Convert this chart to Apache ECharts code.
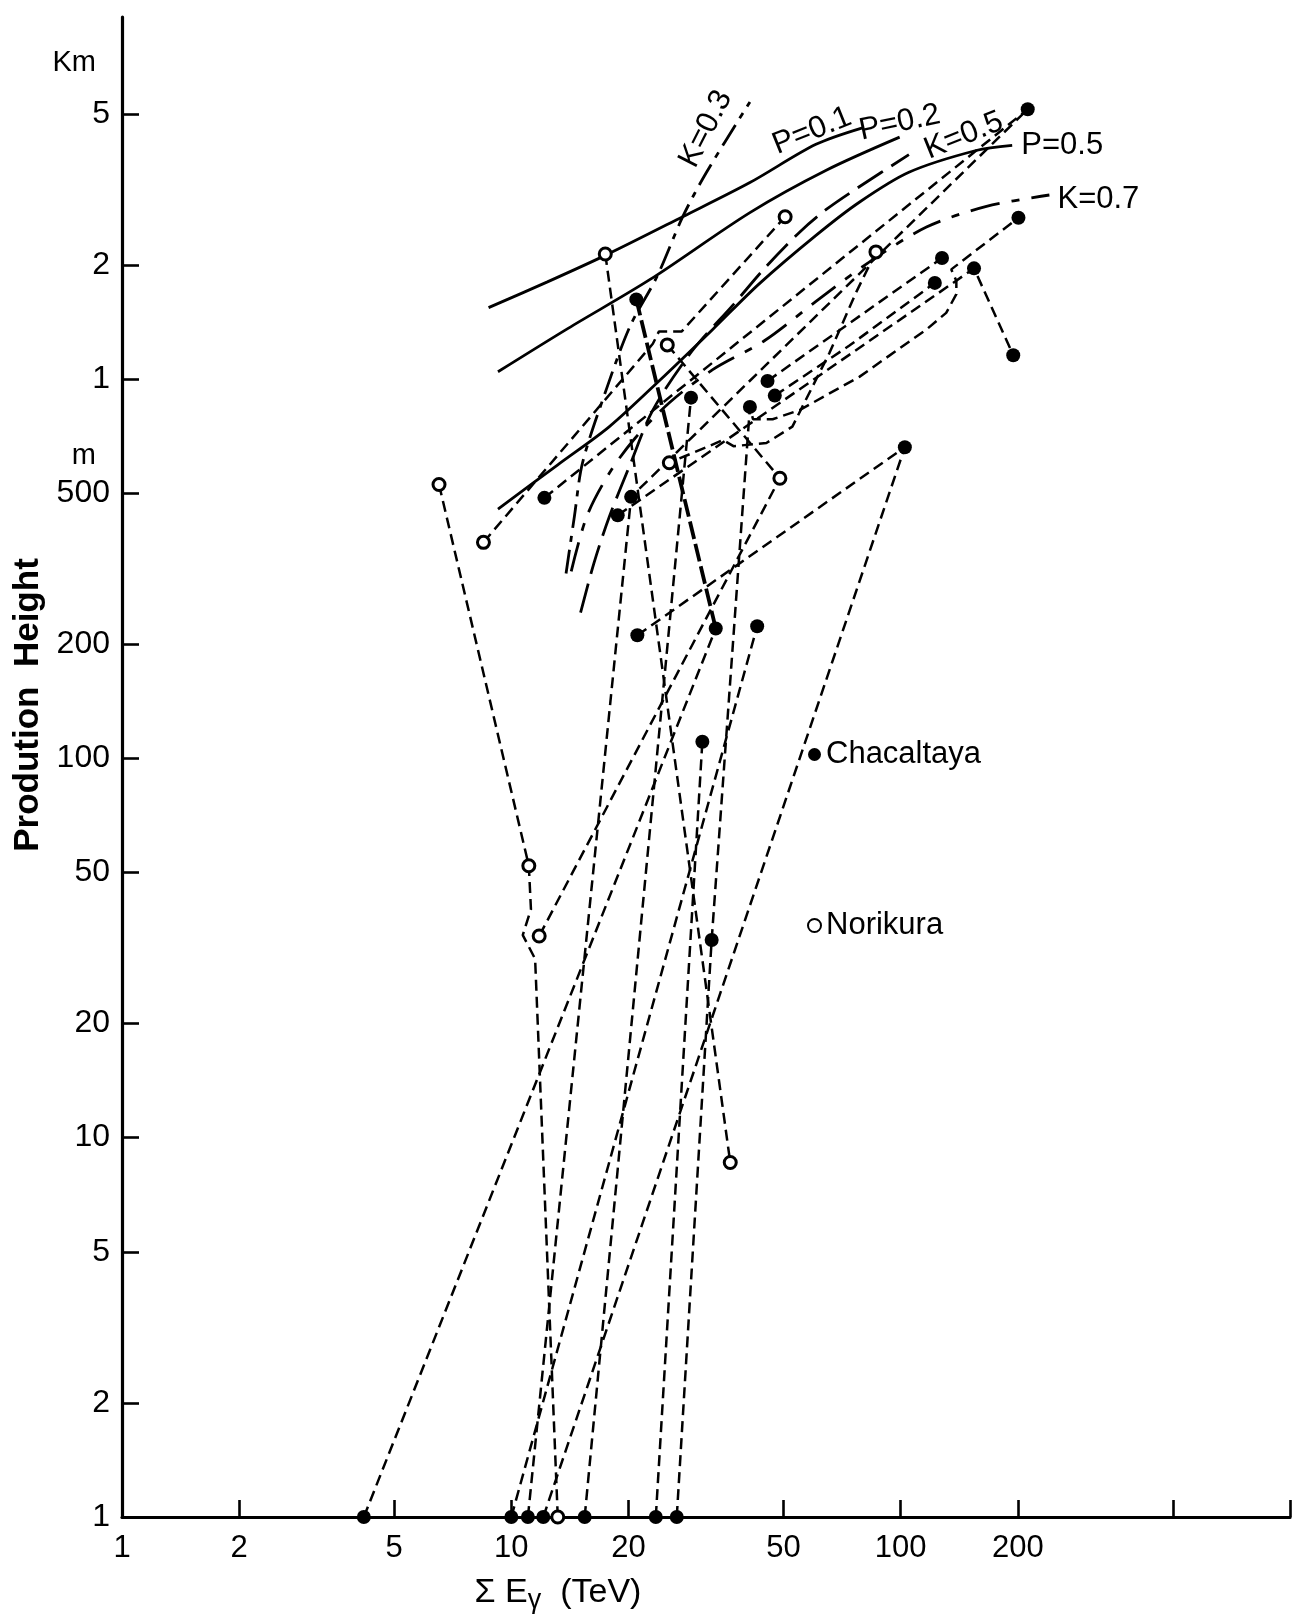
<!DOCTYPE html>
<html>
<head>
<meta charset="utf-8">
<script src="https://cdn.jsdelivr.net/npm/echarts@6.0.0/dist/echarts.min.js"></script>
<style>
  html, body { margin: 0; padding: 0; background: #fff; }
  #main { width: 1293px; height: 1621px; }
</style>
</head>
<body>
<div id="main"></div>
<script>
// axis ticks / labels
var xTicks = [2, 5, 10, 20, 50, 100, 200, 500, 1000];
var xLabelValues = [1, 2, 5, 10, 20, 50, 100, 200];
var yTicks = [2, 5, 10, 20, 50, 100, 200, 500, 1000, 2000, 5000];
var yLabelValues = [1, 2, 5, 10, 20, 50, 100, 200, 500, 1000, 2000, 5000];

// theoretical curves  [sum E (TeV), height (m)]
var curveP01 = [[8.74, 1542], [12.38, 1803], [17.54, 2124], [27.56, 2678], [41.0, 3294], [60.6, 4155], [79.8, 4594]];
var curveP02 = [[9.24, 1045], [13.99, 1360], [22.67, 1827], [41.0, 2746], [64.4, 3551], [99.4, 4341]];
var curveP05 = [[9.24, 454], [13.16, 594], [17.86, 749], [24.1, 994], [32.9, 1351], [43.3, 1781], [60.6, 2391], [78.3, 2924], [105.0, 3507], [156.2, 4002], [193.4, 4129]];
var curveK03 = [[13.82, 307], [14.52, 434], [15.24, 602], [17.54, 939], [20.18, 1377], [23.66, 1861], [27.56, 2678], [31.72, 3507], [41.0, 5374]];
var curveK05 = [[15.06, 242], [16.3, 327], [17.86, 434], [20.18, 594], [23.09, 828], [29.12, 1185], [37.18, 1571], [45.2, 1982], [55.0, 2438], [64.4, 2798], [78.3, 3212], [105.0, 3903]];
var curveK07 = [[14.25, 311], [15.62, 434], [17.86, 565], [20.81, 699], [25.46, 866], [32.9, 1058], [44.66, 1261], [60.6, 1601], [82.3, 2020], [116.5, 2515], [166.1, 2851], [241, 3055]];

// Chacaltaya events (dashed links)
var chacaltayaEvents = [
  [[4.18, 1], [33.5, 220]],
  [[10.0, 1], [42.8, 223]],
  [[11.03, 1], [20.31, 489], [212.0, 5142]],
  [[12.08, 1], [102.5, 661]],
  [[21.07, 211], [102.5, 661]],
  [[15.43, 1], [28.94, 893]],
  [[23.5, 1], [30.95, 110.6]],
  [[26.6, 1], [32.7, 33.2], [41.0, 844], [41.76, 783], [46.9, 783], [55.0, 828], [78.3, 1013], [116.5, 1351], [130.9, 1494], [139.0, 1673], [139.0, 1815], [134.9, 1945], [200.7, 2661]],
  [[18.76, 437], [154.3, 1957], [194.6, 1155]],
  [[45.5, 988], [127.7, 2084]],
  [[47.5, 904], [73.7, 1223], [122.4, 1792]],
  [[12.16, 486], [212.0, 5142]]
];
var chacaltayaHeavy = [[33.5, 220], [20.94, 1621]];

// Norikura events
var norikuraEvents = [
  [[6.52, 527], [11.09, 52.1], [11.23, 40.0], [10.7, 34.2], [11.51, 29.6], [13.16, 1]],
  [[17.43, 2136], [36.5, 8.6]],
  [[25.15, 1230], [48.95, 547.5], [11.79, 34.0]],
  [[86.4, 2163], [76.9, 1694], [65.6, 1170], [52.7, 749], [45.2, 678], [37.2, 665], [34.98, 690.6], [31.72, 661], [25.46, 601.6]],
  [[8.48, 371], [23.09, 1238], [23.95, 1335], [27.4, 1335], [50.5, 2678]]
];

// measured points
var chacaltayaPoints = [[212.0, 5142], [200.7, 2661], [127.7, 2084], [154.3, 1957], [122.4, 1792], [194.6, 1155],
  [20.94, 1621], [45.5, 988], [47.5, 904], [28.94, 893], [41.0, 844], [20.31, 489], [18.76, 437], [12.16, 486],
  [102.5, 661], [21.07, 211], [33.5, 220], [42.8, 223], [30.95, 110.6], [32.7, 33.2],
  [4.18, 1], [10.0, 1], [11.03, 1], [12.08, 1], [15.43, 1], [23.5, 1], [26.6, 1]];
var norikuraPoints = [[17.43, 2136], [50.5, 2678], [25.15, 1230], [86.4, 2163], [48.95, 547.5], [6.52, 527],
  [8.48, 371], [11.09, 52.1], [11.79, 34.0], [36.5, 8.6], [25.46, 601.6], [13.16, 1]];

var FONT = "Liberation Sans";

var curves = [
  { name: "P=0.1", data: curveP01, dash: "solid", label: { rotate: 22, offset: [-48, -16] } },
  { name: "P=0.2", data: curveP02, dash: "solid", label: { rotate: 12, offset: [3, -14] } },
  { name: "P=0.5", data: curveP05, dash: "solid", label: { rotate: 0, offset: [50, 0] } },
  { name: "K=0.3", data: curveK03, dash: [24, 8, 6, 8], label: { rotate: 63, offset: [-44, -27] } },
  { name: "K=0.5", data: curveK05, dash: [30, 10], label: { rotate: 22, offset: [58, 3] } },
  { name: "K=0.7", data: curveK07, dash: [30, 12, 8, 12], label: { rotate: 0, offset: [49, 4] } }
];

var series = [];

curves.forEach(function (c) {
  series.push({
    type: "line",
    name: c.name,
    smooth: 0.3,
    symbol: "circle",
    symbolSize: 0,
    showSymbol: true,
    silent: true,
    z: 2,
    lineStyle: { color: "#000", width: 2.8, type: c.dash },
    itemStyle: { color: "#000", opacity: 1 },
    label: { show: false },
    data: c.data.map(function (p, i) {
      if (i !== c.data.length - 1) return p;
      return {
        value: p,
        label: {
          show: true,
          position: "inside",
          formatter: c.name,
          rotate: c.label.rotate,
          offset: c.label.offset,
          fontFamily: FONT,
          fontSize: 31,
          color: "#000"
        }
      };
    })
  });
});

chacaltayaEvents.concat(norikuraEvents).forEach(function (ev) {
  series.push({
    type: "line",
    data: ev,
    showSymbol: false,
    silent: true,
    z: 3,
    lineStyle: { color: "#000", width: 2.5, type: [11, 6] }
  });
});

series.push({
  type: "line",
  data: chacaltayaHeavy,
  showSymbol: false,
  silent: true,
  z: 3,
  lineStyle: { color: "#000", width: 3.8, type: [18, 5] }
});

series.push({
  type: "scatter",
  name: "Chacaltaya",
  data: chacaltayaPoints,
  symbol: "circle",
  symbolSize: 14,
  z: 5,
  itemStyle: { color: "#000", opacity: 1 }
});
series.push({
  type: "scatter",
  name: "Norikura",
  data: norikuraPoints,
  symbol: "circle",
  symbolSize: 12,
  z: 5,
  itemStyle: { color: "#fff", borderColor: "#000", borderWidth: 3, opacity: 1 }
});

// unit marks on the height axis
series.push({
  type: "scatter",
  data: [{ value: [1, 6810], name: "Km" }, { value: [1, 627], name: "m" }],
  symbolSize: 0,
  silent: true,
  clip: false,
  itemStyle: { opacity: 1, color: "#000" },
  label: {
    show: true,
    position: "left",
    distance: 26,
    formatter: "{b}",
    fontFamily: FONT,
    fontSize: 29,
    color: "#000"
  }
});

var option = {
  backgroundColor: "#fff",
  animation: false,
  grid: { left: 122, right: 3, top: 17, bottom: 104, outerBoundsMode: "none" },
  legend: {
    data: ["Chacaltaya", "Norikura"],
    orient: "vertical",
    left: 802,
    top: 734,
    itemGap: 140,
    itemWidth: 13,
    itemHeight: 13,
    icon: "circle",
    selectedMode: false,
    textStyle: { fontFamily: FONT, fontSize: 31, color: "#000" }
  },
  xAxis: {
    type: "log",
    logBase: 10,
    min: 1,
    max: 1000,
    name: "Σ E{sub|γ}  (TeV)",
    nameLocation: "middle",
    nameGap: 54,
    nameTextStyle: {
      fontFamily: FONT,
      fontSize: 34,
      color: "#000",
      padding: [0, 296, 0, 0],
      rich: { sub: { fontFamily: FONT, fontSize: 27, color: "#000", padding: [16, 0, 0, 0] } }
    },
    axisLine: { lineStyle: { color: "#000", width: 3.2 } },
    axisTick: { inside: true, length: 17, customValues: xTicks, lineStyle: { color: "#000", width: 2.6 } },
    axisLabel: {
      customValues: xLabelValues,
      margin: 16,
      fontFamily: FONT,
      fontSize: 31,
      color: "#000",
      formatter: function (v) { return String(Math.round(v)); }
    },
    splitLine: { show: false },
    minorTick: { show: false }
  },
  yAxis: {
    type: "log",
    logBase: 10,
    min: 1,
    max: 9000,
    name: "Prodution  Height",
    nameLocation: "middle",
    nameGap: 76,
    nameTextStyle: {
      fontFamily: FONT,
      fontSize: 35,
      fontWeight: "bold",
      color: "#000",
      padding: [0, 0, 0, 124]
    },
    axisLine: { lineStyle: { color: "#000", width: 3.2 } },
    axisTick: { inside: true, length: 17, customValues: yTicks, lineStyle: { color: "#000", width: 2.6 } },
    axisLabel: {
      customValues: yLabelValues,
      margin: 12,
      fontFamily: FONT,
      fontSize: 32,
      color: "#000",
      formatter: function (v) {
        var r = Math.round(v);
        return r >= 1000 ? String(Math.round(r / 1000)) : String(r);
      }
    },
    splitLine: { show: false },
    minorTick: { show: false }
  },
  series: series
};

var chart = echarts.init(document.getElementById("main"), null, { renderer: "canvas" });
chart.setOption(option);
</script>
</body>
</html>
